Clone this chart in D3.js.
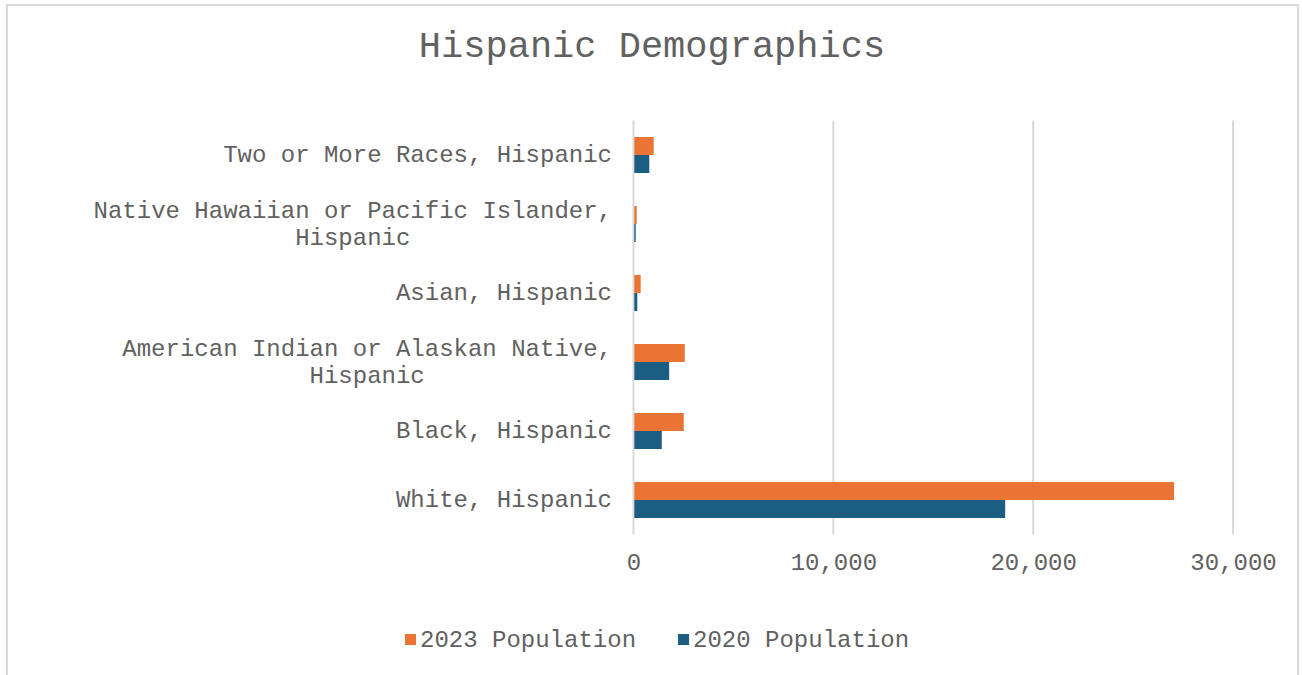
<!DOCTYPE html>
<html>
<head>
<meta charset="utf-8">
<script src="https://cdn.jsdelivr.net/npm/d3@7"></script>
<style>
  html, body { margin: 0; padding: 0; background: #fff; }
  svg { display: block; }
  text { font-family: "Liberation Mono", "Courier New", monospace; fill: #616161; }
</style>
</head>
<body>
<svg id="chart" width="1302" height="675"></svg>
<script>
// ---- data ----
const categories = [
  "White, Hispanic",
  "Black, Hispanic",
  "American Indian or Alaskan Native, Hispanic",
  "Asian, Hispanic",
  "Native Hawaiian or Pacific Islander, Hispanic",
  "Two or More Races, Hispanic"
];
const pop2023 = [27050, 2515, 2565, 360, 160, 1010];
const pop2020 = [18600, 1415, 1785, 190, 110, 790];
const seriesNames = ["2023 Population", "2020 Population"];
const xTicks = [0, 10000, 20000, 30000];
const title = "Hispanic Demographics";

// ---- layout ----
const colors = ["#E97434", "#1B5E82"];
const textColor = "#616161";
const svg = d3.select("#chart");
const plot = { left: 633.5, right: 1233, top: 120.5, bottom: 534.5 };

// border
svg.append("rect")
  .attr("x", 7).attr("y", 5)
  .attr("width", 1291).attr("height", 700)
  .attr("fill", "#fff").attr("stroke", "#d9d9d9").attr("stroke-width", 2);

// title
svg.append("text")
  .attr("x", 652).attr("y", 57)
  .attr("text-anchor", "middle")
  .style("font-size", "37px")
  .text(title);

const x = d3.scaleLinear().domain([0, 30000]).range([plot.left, plot.right]);
// first category at the bottom
const y = d3.scaleBand()
  .domain(categories.slice().reverse())
  .range([plot.top, plot.bottom])
  .padding(0);

// gridlines
svg.append("g")
  .selectAll("line")
  .data(xTicks)
  .join("line")
  .attr("x1", d => x(d)).attr("x2", d => x(d))
  .attr("y1", plot.top).attr("y2", plot.bottom)
  .attr("stroke", "#d9d9d9").attr("stroke-width", 2);

// x axis tick labels
const xAxis = d3.axisBottom(x).tickValues(xTicks).tickFormat(d3.format(",")).tickSize(0).tickPadding(0);
const gx = svg.append("g")
  .attr("transform", `translate(0,${plot.bottom})`)
  .call(xAxis);
gx.select(".domain").remove();
gx.selectAll("text")
  .attr("y", 35).attr("dy", 0)
  .style("font-size", "24px")
  .style("font-family", '"Liberation Mono", "Courier New", monospace')
  .attr("fill", textColor);

// bars
const barH = 18;
const rows = categories.map((c, i) => ({ c, v: [pop2023[i], pop2020[i]] }));
const gb = svg.append("g");
rows.forEach(r => {
  const cy = y(r.c) + y.bandwidth() / 2;
  r.v.forEach((v, s) => {
    gb.append("rect")
      .attr("x", x(0) + 0.8)
      .attr("y", s === 0 ? cy - barH : cy)
      .attr("width", Math.max(0, x(v) - x(0) - 0.8))
      .attr("height", barH)
      .attr("fill", colors[s]);
  });
});

// category labels with wrapping
const labelRight = 612;
const maxW = 530;
const lineH = 27;
const fs = 24;
const gl = svg.append("g").style("font-size", fs + "px");
const measure = gl.append("text").attr("visibility", "hidden");
function textW(t) { measure.text(t); return measure.node().getComputedTextLength(); }
categories.forEach(c => {
  const words = c.split(" ");
  const lines = [];
  let cur = "";
  words.forEach(w => {
    const trial = cur ? cur + " " + w : w;
    if (cur && textW(trial) > maxW) { lines.push(cur); cur = w; }
    else cur = trial;
  });
  lines.push(cur);
  const widest = d3.max(lines, l => textW(l));
  const cx = labelRight - widest / 2;
  const cy = y(c) + y.bandwidth() / 2;
  const y0 = cy - (lines.length - 1) * lineH / 2;
  lines.forEach((l, i) => {
    gl.append("text")
      .attr("x", cx)
      .attr("y", y0 + i * lineH)
      .attr("dy", "0.3em")
      .attr("text-anchor", "middle")
      .text(l);
  });
});
measure.remove();

// legend
const legendY = 640;
const lg = svg.append("g").style("font-size", "24px");
let lx = 405;
seriesNames.forEach((n, i) => {
  lg.append("rect").attr("x", lx).attr("y", legendY - 6).attr("width", 11).attr("height", 11).attr("fill", colors[i]);
  const t = lg.append("text").attr("x", lx + 15).attr("y", legendY).attr("dy", "0.3em").text(n);
  lx += 15 + t.node().getComputedTextLength() + 42;
});
</script>
</body>
</html>
